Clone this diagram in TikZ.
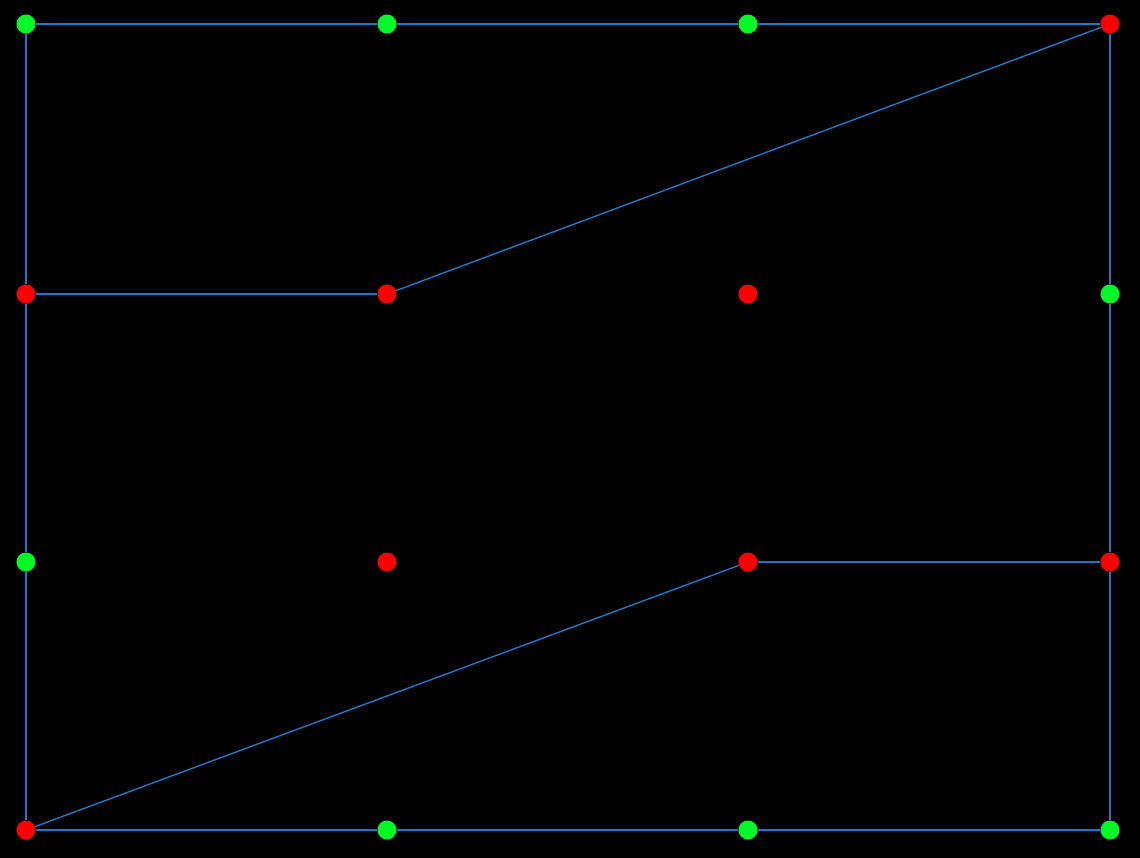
\documentclass[tikz,border=0pt]{standalone}
\definecolor{lineblue}{RGB}{31,119,200}
\definecolor{dotgreen}{RGB}{0,250,40}
\definecolor{dotred}{RGB}{250,0,0}
\tikzset{
  dotg/.style={circle,fill=dotgreen,inner sep=0pt,minimum size=19pt},
  dotr/.style={circle,fill=dotred,inner sep=0pt,minimum size=19pt},
  edge/.style={draw=lineblue,line width=1.4pt}
}
\begin{document}
\begin{tikzpicture}[x=1pt,y=-1pt]
\fill[black] (0,0) rectangle (1140,858);
\useasboundingbox (0,0) rectangle (1140,858);
% row 1
\node[dotg] (a1) at (26,24) {};
\node[dotg] (b1) at (387,24) {};
\node[dotg] (c1) at (748,24) {};
\node[dotr] (d1) at (1110,24) {};
% row 2
\node[dotr] (a2) at (26,294) {};
\node[dotr] (b2) at (387,294) {};
\node[dotr] (c2) at (748,294) {};
\node[dotg] (d2) at (1110,294) {};
% row 3
\node[dotg] (a3) at (26,562) {};
\node[dotr] (b3) at (387,562) {};
\node[dotr] (c3) at (748,562) {};
\node[dotr] (d3) at (1110,562) {};
% row 4
\node[dotr] (a4) at (26,830) {};
\node[dotg] (b4) at (387,830) {};
\node[dotg] (c4) at (748,830) {};
\node[dotg] (d4) at (1110,830) {};
% edges
\draw[edge] (a1) -- (b1);
\draw[edge] (b1) -- (c1);
\draw[edge] (c1) -- (d1);
\draw[edge] (d1) -- (d2);
\draw[edge] (d2) -- (d3);
\draw[edge] (d3) -- (d4);
\draw[edge] (a4) -- (b4);
\draw[edge] (b4) -- (c4);
\draw[edge] (c4) -- (d4);
\draw[edge] (a1) -- (a2);
\draw[edge] (a2) -- (a3);
\draw[edge] (a3) -- (a4);
\draw[edge] (a2) -- (b2);
\draw[edge] (b2) -- (d1);
\draw[edge] (a4) -- (c3);
\draw[edge] (c3) -- (d3);
\end{tikzpicture}
\end{document}
